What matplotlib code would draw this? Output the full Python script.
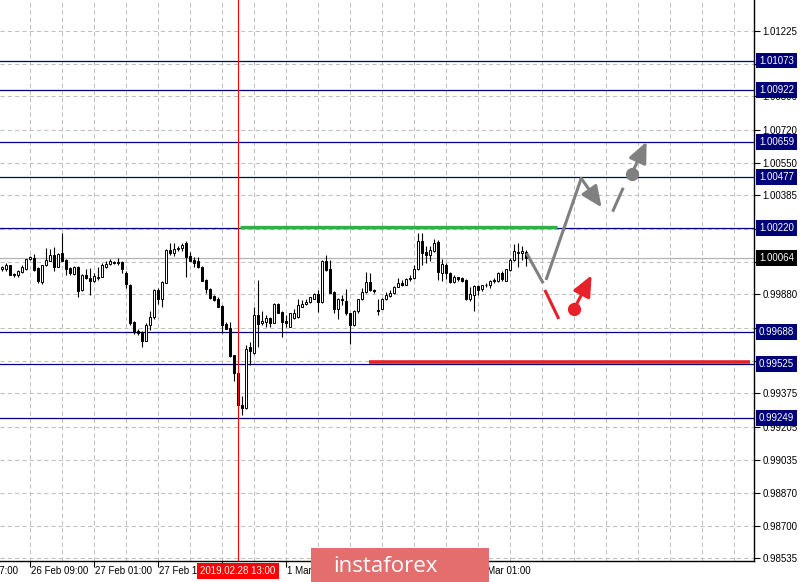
import numpy as np
import matplotlib
matplotlib.use('Agg')
import matplotlib.pyplot as plt
import matplotlib.transforms as mtransforms
from matplotlib.patches import Rectangle

plt.rcParams['font.family'] = ['Liberation Sans', 'DejaVu Sans']

# H1 свечи (бар 0 = левый край)
opens = [1.00008, 1.00008, 1.00029, 0.99984, 0.99978, 0.99995, 1.00008, 1.00059, 1.00066, 1.00015,
         0.99944, 1.00029, 1.00052, 1.00083, 1.00022, 1.00090, 1.00056, 1.00015, 0.99984, 1.00022,
         0.99903, 0.99981, 0.99964, 0.99950, 0.99964, 0.99971, 1.00018, 1.00035, 1.00046, 1.00039,
         1.00046, 0.99991, 0.99930, 0.99740, 0.99692, 0.99689, 0.99644, 0.99726, 0.99763, 0.99903,
         0.99859, 0.99940, 1.00107, 1.00090, 1.00110, 1.00117, 1.00144, 1.00076, 1.00056, 1.00049,
         1.00022, 0.99954, 0.99910, 0.99872, 0.99859, 0.99821, 0.99729, 0.99709, 0.99570, 0.99478,
         0.99318, 0.99301, 0.99614, 0.99580, 0.99774, 0.99733, 0.99740, 0.99760, 0.99736, 0.99831,
         0.99791, 0.99743, 0.99716, 0.99760, 0.99763, 0.99818, 0.99831, 0.99842, 0.99859, 0.99882,
         0.99842, 1.00049, 1.00008, 0.99893, 0.99804, 0.99859, 0.99848, 0.99784, 0.99723, 0.99794,
         0.99855, 0.99893, 0.99944, 0.99903, 0.99801, 0.99808, 0.99855, 0.99872, 0.99886, 0.99920,
         0.99937, 0.99930, 0.99964, 0.99964, 1.00008, 1.00151, 1.00097, 1.00080, 1.00103, 1.00148,
         0.99991, 1.00032, 0.99988, 0.99944, 0.99967, 0.99964, 0.99954, 0.99855, 0.99879, 0.99923,
         0.99906, 0.99930, 0.99930, 0.99954, 0.99947, 0.99991, 0.99950, 1.00005, 1.00056, 1.00090,
         1.00093, 1.00097]
highs = [1.00024, 1.00041, 1.00032, 0.99988, 1.00005, 1.00029, 1.00063, 1.00076, 1.00086, 1.00018,
         1.00032, 1.00117, 1.00114, 1.00124, 1.00093, 1.00192, 1.00059, 1.00018, 1.00025, 1.00025,
         0.99984, 1.00012, 1.00015, 0.99991, 1.00018, 1.00042, 1.00049, 1.00063, 1.00049, 1.00066,
         1.00049, 0.99998, 0.99933, 0.99743, 0.99702, 0.99692, 0.99733, 0.99794, 0.99906, 0.99913,
         0.99947, 1.00114, 1.00141, 1.00144, 1.00127, 1.00144, 1.00151, 1.00097, 1.00073, 1.00069,
         1.00025, 0.99957, 0.99913, 0.99879, 0.99865, 0.99828, 0.99740, 0.99740, 0.99573, 0.99481,
         0.99362, 0.99624, 0.99638, 0.99814, 0.99954, 0.99794, 0.99774, 0.99767, 0.99835, 0.99835,
         0.99794, 0.99777, 0.99787, 0.99804, 0.99855, 0.99852, 0.99855, 0.99869, 0.99886, 0.99903,
         1.00056, 1.00083, 1.00056, 0.99896, 0.99862, 0.99879, 0.99910, 0.99787, 0.99801, 0.99859,
         0.99913, 0.99995, 0.99988, 0.99906, 0.99859, 0.99862, 0.99893, 0.99903, 0.99923, 0.99964,
         0.99954, 0.99964, 0.99981, 1.00029, 1.00192, 1.00192, 1.00127, 1.00127, 1.00161, 1.00158,
         1.00063, 1.00042, 0.99995, 0.99981, 0.99971, 0.99971, 0.99957, 0.99916, 0.99927, 0.99930,
         0.99930, 0.99940, 0.99954, 0.99964, 0.99995, 0.99998, 1.00012, 1.00066, 1.00137, 1.00141,
         1.00127, 1.00107]
lows = [1.00001, 1.00001, 0.99978, 0.99967, 0.99967, 0.99991, 1.00005, 1.00056, 1.00001, 0.99940,
        0.99933, 1.00025, 1.00049, 1.00001, 1.00018, 1.00049, 0.99978, 0.99981, 0.99978, 0.99869,
        0.99899, 0.99961, 0.99876, 0.99944, 0.99954, 0.99967, 1.00015, 1.00029, 1.00035, 1.00032,
        0.99988, 0.99913, 0.99726, 0.99678, 0.99672, 0.99614, 0.99641, 0.99699, 0.99757, 0.99831,
        0.99814, 0.99937, 1.00080, 1.00076, 1.00103, 1.00100, 0.99971, 1.00049, 1.00018, 1.00015,
        0.99947, 0.99889, 0.99855, 0.99848, 0.99814, 0.99682, 0.99702, 0.99559, 0.99437, 0.99315,
        0.99267, 0.99298, 0.99522, 0.99576, 0.99614, 0.99726, 0.99716, 0.99716, 0.99733, 0.99784,
        0.99661, 0.99716, 0.99712, 0.99757, 0.99760, 0.99814, 0.99825, 0.99835, 0.99855, 0.99791,
        0.99838, 0.99998, 0.99886, 0.99784, 0.99753, 0.99825, 0.99777, 0.99627, 0.99719, 0.99787,
        0.99852, 0.99889, 0.99899, 0.99886, 0.99774, 0.99804, 0.99852, 0.99869, 0.99882, 0.99916,
        0.99923, 0.99927, 0.99947, 0.99961, 1.00005, 1.00032, 1.00039, 1.00049, 1.00097, 0.99954,
        0.99947, 0.99961, 0.99937, 0.99937, 0.99947, 0.99944, 0.99852, 0.99848, 0.99797, 0.99876,
        0.99899, 0.99920, 0.99913, 0.99937, 0.99944, 0.99947, 0.99947, 0.99998, 1.00049, 1.00022,
        1.00056, 1.00025]
closes = [1.00018, 1.00032, 0.99981, 0.99978, 1.00001, 1.00018, 1.00059, 1.00069, 1.00005, 0.99947,
          1.00029, 1.00056, 1.00083, 1.00022, 1.00086, 1.00052, 1.00012, 0.99991, 1.00018, 0.99899,
          0.99981, 0.99964, 0.99950, 0.99974, 0.99971, 1.00032, 1.00035, 1.00049, 1.00039, 1.00046,
          1.00008, 0.99933, 0.99736, 0.99689, 0.99682, 0.99644, 0.99726, 0.99763, 0.99903, 0.99859,
          0.99944, 1.00107, 1.00090, 1.00110, 1.00117, 1.00131, 1.00073, 1.00052, 1.00042, 1.00018,
          0.99950, 0.99906, 0.99862, 0.99852, 0.99818, 0.99726, 0.99706, 0.99566, 0.99478, 0.99318,
          0.99301, 0.99604, 0.99593, 0.99774, 0.99729, 0.99743, 0.99760, 0.99736, 0.99831, 0.99787,
          0.99740, 0.99736, 0.99784, 0.99787, 0.99828, 0.99831, 0.99842, 0.99865, 0.99882, 0.99842,
          1.00049, 1.00005, 0.99889, 0.99804, 0.99855, 0.99852, 0.99784, 0.99723, 0.99797, 0.99855,
          0.99893, 0.99944, 0.99903, 0.99896, 0.99797, 0.99859, 0.99879, 0.99886, 0.99920, 0.99937,
          0.99930, 0.99957, 0.99957, 1.00008, 1.00151, 1.00090, 1.00083, 1.00107, 1.00144, 0.99995,
          1.00035, 0.99988, 0.99944, 0.99971, 0.99961, 0.99950, 0.99855, 0.99882, 0.99923, 0.99903,
          0.99927, 0.99927, 0.99950, 0.99947, 0.99991, 0.99957, 1.00008, 1.00056, 1.00103, 1.00098,
          1.00100, 1.00064]

price_ticks = [1.01225, 1.01055, 1.00890, 1.00720, 1.00550, 1.00385, 1.00215, 1.00045, 0.99880,
               0.99710, 0.99540, 0.99375, 0.99205, 0.99035, 0.98870, 0.98700, 0.98535]
# подписи, полностью закрытые плашками уровней
hidden_ticks = [1.01055, 1.00215, 1.00045, 0.99710, 0.99540]
levels = [1.01073, 1.00922, 1.00659, 1.00477, 1.00220, 0.99688, 0.99525, 0.99249]
last_price = 1.00064

time_bars = [-10.5, 7, 23, 39, 71, 119]
time_labels = ['25 Feb 17:00', '26 Feb 09:00', '27 Feb 01:00', '27 Feb 17:00',
               '1 Mar 01:00', '5 Mar 01:00']
tick_bars = [7, 23, 39, 55, 71, 87, 103, 119]
cursor_bar = 59
cursor_label = '2019.02.28 13:00'

# горизонтальные отрезки (бар начала, бар конца), цена
green_bars = [59.6, 138.8]
green_price = 1.00224
red_bars = [91.9, 187.0]
red_price = 0.99535

# сценарии: (бар, цена)
gray_down = [(131.25, 1.00090), (135.4, 0.99937)]
gray_up = [(136.1, 0.99954), (144.9, 1.00472)]
gray_pull = [(144.9, 1.00472), (150.0, 1.00324)]
gray_dash = [(152.75, 1.00302), (155.4, 1.00424)]
gray_dot = (157.5, 1.00494)
gray_tip = (161.25, 1.00659)
red_leg = [(135.8, 0.99903), (139.3, 0.99755)]
red_dot = (143.1, 0.99806)
red_tip = (147.5, 0.99978)

GRAY = '#808080'
RED = '#e8202a'
NAVY = '#000078'

fig = plt.figure(figsize=(8, 5.82), dpi=100)
ax = fig.add_axes([0, 21 / 582, 754 / 800, 561 / 582])
ax.set_xlim(-0.425, 188.1)
ax.set_ylim(0.985207, 1.013816)

# сетка
for p in price_ticks:
    ax.axhline(p, color='#c0c0c0', lw=0.75, ls=(0, (4, 3)), zorder=0)
for b in range(-1, 190, 8):
    ax.axvline(b, color='#c0c0c0', lw=0.75, ls=(0, (4, 3)), zorder=0)

# уровни
for lv in levels:
    ax.axhline(lv, color=NAVY, lw=0.9, zorder=1)
ax.axhline(last_price, color='#b4b4b4', lw=0.9, zorder=1)

# свечи
o = np.array(opens)
h = np.array(highs)
l = np.array(lows)
c = np.array(closes)
idx = np.arange(len(o))
up = c >= o
ax.vlines(idx, l, h, color='black', lw=0.8, zorder=3)
ax.bar(idx, np.maximum(np.abs(c - o), 0.00003), bottom=np.minimum(o, c), width=0.55,
       color=np.where(up, 'white', 'black'), edgecolor='black', lw=0.7, zorder=4)

ax.axvline(cursor_bar, color='red', lw=0.8, zorder=5)

ax.plot(green_bars, [green_price] * 2, color='#2eb14d', lw=2.4, solid_capstyle='butt', zorder=6)
ax.plot(red_bars, [red_price] * 2, color=RED, lw=2.6, solid_capstyle='butt', zorder=6)

# серый сценарий
for seg in (gray_down, gray_up, gray_dash):
    xs, ys = zip(*seg)
    ax.plot(xs, ys, color=GRAY, lw=2.2, solid_capstyle='butt', zorder=7)
head = dict(arrowstyle='-|>,head_length=0.9,head_width=0.4', lw=2.2, mutation_scale=14,
            shrinkA=0, shrinkB=0)
ax.annotate('', xy=gray_pull[1], xytext=gray_pull[0], arrowprops=dict(color=GRAY, **head), zorder=7)
ax.plot(*gray_dot, 'o', ms=8.5, color=GRAY, zorder=7)
ax.annotate('', xy=gray_tip, xytext=gray_dot, arrowprops=dict(color=GRAY, **head), zorder=7)

# красный сценарий
xs, ys = zip(*red_leg)
ax.plot(xs, ys, color=RED, lw=2.2, solid_capstyle='butt', zorder=7)
ax.plot(*red_dot, 'o', ms=8.5, color=RED, zorder=7)
ax.annotate('', xy=red_tip, xytext=red_dot, arrowprops=dict(color=RED, **head), zorder=7)

# оси
for side in ('left', 'top'):
    ax.spines[side].set_visible(False)
for side in ('right', 'bottom'):
    ax.spines[side].set_color('black')
    ax.spines[side].set_linewidth(1)
ax.yaxis.tick_right()
ax.set_yticks(price_ticks)
ax.set_yticklabels(['' if p in hidden_ticks else f'{p:.5f}' for p in price_ticks])
ax.tick_params(axis='y', length=4, width=0.8, pad=2, labelsize=7, colors='black')
ax.set_xticks(tick_bars)
ax.set_xticklabels([])
ax.tick_params(axis='x', length=4, width=0.8)

tb = mtransforms.offset_copy(ax.get_xaxis_transform(), fig=fig, x=1, y=-10, units='dots')
for b, lab in zip(time_bars, time_labels):
    ax.text(b, 0, lab, transform=tb, ha='left', va='center', fontsize=7, clip_on=False)
tc = mtransforms.offset_copy(ax.get_xaxis_transform(), fig=fig, x=0, y=-10, units='dots')
ax.text(cursor_bar, 0, cursor_label, transform=tc, ha='center', va='center', fontsize=7,
        color='white', bbox=dict(boxstyle='square,pad=0.35', fc='red', ec='none'),
        clip_on=False, zorder=10)

tr = mtransforms.offset_copy(ax.get_yaxis_transform(), fig=fig, x=5, y=0, units='dots')
for lv in levels + [last_price]:
    fc = 'black' if lv == last_price else NAVY
    ax.text(1.0, lv, f'{lv:.5f}', transform=tr, ha='left', va='center', fontsize=7, color='white',
            bbox=dict(boxstyle='square,pad=0.3', fc=fc, ec='none'), clip_on=False, zorder=10)

# водяной знак
fig.add_artist(Rectangle((311 / 800, 0), 178 / 800, 34 / 582, transform=fig.transFigure,
                         fc='#e46e6e', ec='none', zorder=20))
fig.text(385 / 800, 15 / 582, 'instaforex', ha='center', va='center', color='white',
         fontsize=16, family='Open Sans', zorder=21)

fig.savefig('out.png', dpi=100, facecolor='white')
